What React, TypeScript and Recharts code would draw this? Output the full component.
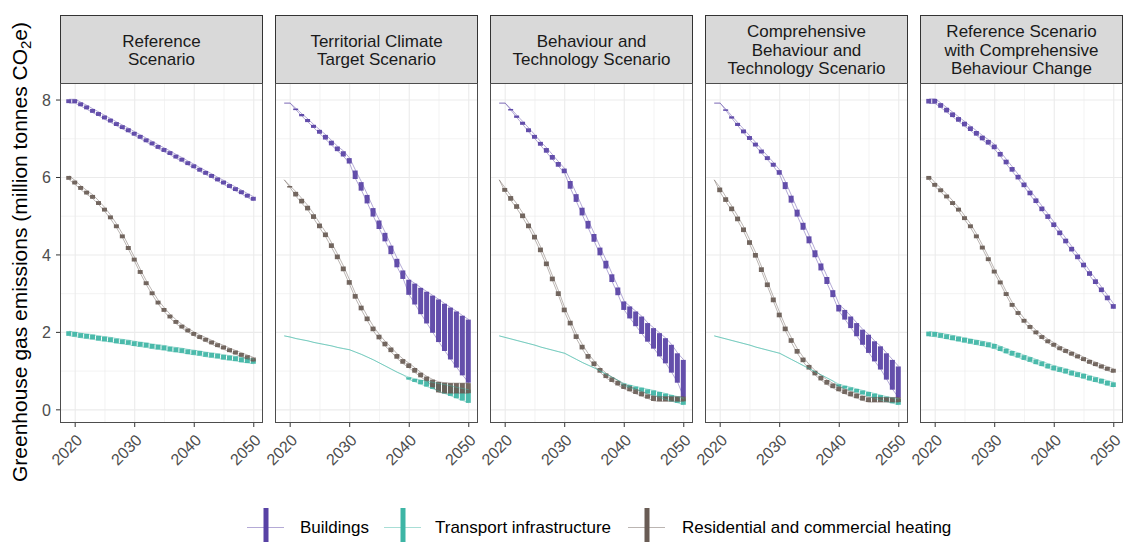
import React from 'react';
import { ComposedChart, Line, Bar, XAxis, YAxis, CartesianGrid } from 'recharts';

// years shown in every facet
const YEARS = [
  2019, 2020, 2021, 2022, 2023, 2024, 2025, 2026, 2027, 2028, 2029, 2030, 2031, 2032, 2033, 2034,
  2035, 2036, 2037, 2038, 2039, 2040, 2041, 2042, 2043, 2044, 2045, 2046, 2047, 2048, 2049, 2050,
];

const SERIES_NAMES = ['Buildings', 'Transport infrastructure', 'Residential and commercial heating'];
const SERIES_COLORS = ['#5842a5', '#3db5a5', '#695c55'];

const X_MAJOR = [2020, 2030, 2040, 2050];
const X_MINOR = [2025, 2035, 2045];
const Y_MAJOR = [0, 2, 4, 6, 8];
const Y_MINOR = [1, 3, 5, 7];

// --- Reference Scenario
const REF_BLD_LO = [7.92, 7.92, 7.84, 7.76, 7.67, 7.59, 7.50, 7.42, 7.33, 7.25, 7.17, 7.08, 7.00, 6.91, 6.83, 6.74, 6.66, 6.58, 6.49, 6.41, 6.32, 6.24, 6.15, 6.07, 5.99, 5.90, 5.82, 5.73, 5.65, 5.57, 5.48, 5.40];
const REF_BLD_HI = [8.02, 8.02, 7.94, 7.86, 7.77, 7.69, 7.60, 7.52, 7.43, 7.35, 7.27, 7.18, 7.10, 7.01, 6.93, 6.84, 6.76, 6.68, 6.59, 6.51, 6.42, 6.34, 6.25, 6.17, 6.09, 6.00, 5.92, 5.83, 5.75, 5.67, 5.58, 5.50];
const REF_TRN_LO = [1.91, 1.89, 1.86, 1.84, 1.82, 1.79, 1.77, 1.75, 1.72, 1.70, 1.68, 1.65, 1.63, 1.61, 1.58, 1.56, 1.54, 1.51, 1.49, 1.47, 1.44, 1.42, 1.40, 1.37, 1.35, 1.33, 1.30, 1.28, 1.26, 1.23, 1.21, 1.19];
const REF_TRN_HI = [2.03, 2.01, 1.98, 1.96, 1.94, 1.91, 1.89, 1.87, 1.84, 1.82, 1.80, 1.77, 1.75, 1.73, 1.70, 1.68, 1.66, 1.63, 1.61, 1.59, 1.56, 1.54, 1.52, 1.49, 1.47, 1.45, 1.42, 1.40, 1.38, 1.35, 1.33, 1.31];
const REF_HEAT_LO = [5.94, 5.82, 5.68, 5.56, 5.45, 5.29, 5.12, 4.92, 4.69, 4.43, 4.13, 3.83, 3.51, 3.22, 2.96, 2.72, 2.53, 2.36, 2.22, 2.10, 2.00, 1.91, 1.83, 1.76, 1.69, 1.62, 1.56, 1.49, 1.43, 1.37, 1.31, 1.25];
const REF_HEAT_HI = [6.04, 5.92, 5.78, 5.66, 5.55, 5.39, 5.22, 5.02, 4.79, 4.53, 4.23, 3.93, 3.61, 3.32, 3.06, 2.82, 2.63, 2.46, 2.32, 2.20, 2.10, 2.01, 1.93, 1.86, 1.79, 1.72, 1.66, 1.59, 1.53, 1.47, 1.41, 1.35];

// --- Territorial Climate Target Scenario
const TCT_BLD_LO = [7.92, 7.92, 7.74, 7.58, 7.43, 7.28, 7.13, 6.98, 6.83, 6.68, 6.54, 6.36, 5.96, 5.66, 5.33, 4.99, 4.67, 4.35, 4.02, 3.68, 3.38, 2.97, 2.72, 2.47, 2.23, 1.99, 1.75, 1.52, 1.30, 1.09, 0.89, 0.70];
const TCT_BLD_HI = [7.92, 7.92, 7.78, 7.64, 7.51, 7.36, 7.23, 7.10, 6.95, 6.80, 6.68, 6.50, 6.18, 5.88, 5.55, 5.21, 4.89, 4.57, 4.24, 3.90, 3.60, 3.36, 3.26, 3.15, 3.05, 2.95, 2.85, 2.74, 2.64, 2.54, 2.43, 2.33];
const TCT_TRN_LO = [1.91, 1.88, 1.84, 1.81, 1.78, 1.74, 1.71, 1.68, 1.65, 1.61, 1.58, 1.55, 1.49, 1.43, 1.36, 1.29, 1.21, 1.13, 1.05, 0.97, 0.90, 0.78, 0.72, 0.66, 0.60, 0.54, 0.48, 0.42, 0.36, 0.30, 0.24, 0.18];
const TCT_TRN_HI = [1.91, 1.88, 1.84, 1.81, 1.78, 1.74, 1.71, 1.68, 1.65, 1.61, 1.58, 1.55, 1.49, 1.43, 1.36, 1.29, 1.21, 1.13, 1.05, 0.97, 0.90, 0.84, 0.80, 0.77, 0.74, 0.71, 0.68, 0.65, 0.62, 0.58, 0.55, 0.52];
const TCT_HEAT_LO = [5.94, 5.74, 5.51, 5.33, 5.15, 4.93, 4.69, 4.46, 4.18, 3.89, 3.58, 3.23, 2.87, 2.57, 2.29, 2.03, 1.82, 1.64, 1.49, 1.32, 1.19, 1.08, 0.96, 0.84, 0.74, 0.58, 0.45, 0.43, 0.43, 0.43, 0.43, 0.43];
const TCT_HEAT_HI = [5.94, 5.78, 5.63, 5.45, 5.27, 5.05, 4.81, 4.58, 4.30, 4.01, 3.70, 3.35, 2.99, 2.69, 2.41, 2.15, 1.94, 1.76, 1.61, 1.44, 1.31, 1.20, 1.08, 0.96, 0.86, 0.78, 0.72, 0.70, 0.69, 0.69, 0.69, 0.69];

// --- Behaviour and Technology Scenario
const BT_BLD_LO = [7.92, 7.92, 7.73, 7.54, 7.36, 7.17, 7.00, 6.82, 6.64, 6.46, 6.28, 6.11, 5.71, 5.37, 5.02, 4.68, 4.34, 3.99, 3.65, 3.30, 2.96, 2.58, 2.36, 2.16, 1.96, 1.76, 1.58, 1.38, 1.20, 0.96, 0.70, 0.32];
const BT_BLD_HI = [7.92, 7.92, 7.77, 7.60, 7.44, 7.27, 7.10, 6.92, 6.76, 6.58, 6.40, 6.23, 5.91, 5.57, 5.22, 4.88, 4.54, 4.19, 3.85, 3.50, 3.16, 2.80, 2.67, 2.54, 2.41, 2.24, 2.11, 1.98, 1.85, 1.68, 1.46, 1.29];
const BT_TRN_LO = [1.91, 1.87, 1.83, 1.79, 1.75, 1.71, 1.67, 1.62, 1.58, 1.54, 1.50, 1.46, 1.38, 1.30, 1.22, 1.15, 1.08, 1.00, 0.92, 0.84, 0.76, 0.62, 0.57, 0.52, 0.47, 0.42, 0.37, 0.32, 0.27, 0.22, 0.18, 0.13];
const BT_TRN_HI = [1.91, 1.87, 1.83, 1.79, 1.75, 1.71, 1.67, 1.62, 1.58, 1.54, 1.50, 1.46, 1.38, 1.30, 1.22, 1.15, 1.08, 1.00, 0.92, 0.84, 0.76, 0.68, 0.64, 0.60, 0.57, 0.53, 0.50, 0.46, 0.42, 0.38, 0.34, 0.30];
const BT_HEAT_LO = [5.94, 5.63, 5.40, 5.19, 4.95, 4.69, 4.40, 4.07, 3.71, 3.32, 2.94, 2.52, 2.18, 1.83, 1.56, 1.32, 1.13, 0.96, 0.82, 0.72, 0.63, 0.54, 0.48, 0.41, 0.35, 0.29, 0.23, 0.22, 0.22, 0.22, 0.22, 0.22];
const BT_HEAT_HI = [5.94, 5.73, 5.52, 5.31, 5.07, 4.81, 4.52, 4.19, 3.83, 3.44, 3.06, 2.64, 2.30, 1.95, 1.68, 1.44, 1.25, 1.08, 0.94, 0.84, 0.75, 0.66, 0.60, 0.53, 0.47, 0.40, 0.36, 0.34, 0.34, 0.34, 0.34, 0.34];

// --- Comprehensive Behaviour and Technology Scenario
const CBT_BLD_LO = [7.92, 7.92, 7.72, 7.52, 7.33, 7.14, 6.97, 6.80, 6.62, 6.45, 6.28, 6.07, 5.70, 5.35, 4.99, 4.65, 4.30, 3.94, 3.60, 3.25, 2.91, 2.54, 2.33, 2.11, 1.90, 1.68, 1.47, 1.25, 1.04, 0.78, 0.52, 0.31];
const CBT_BLD_HI = [7.92, 7.92, 7.76, 7.58, 7.41, 7.24, 7.07, 6.90, 6.72, 6.55, 6.38, 6.19, 5.88, 5.53, 5.17, 4.83, 4.48, 4.12, 3.78, 3.43, 3.09, 2.71, 2.58, 2.41, 2.24, 2.07, 1.94, 1.77, 1.64, 1.46, 1.29, 1.12];
const CBT_TRN_LO = [1.91, 1.87, 1.83, 1.79, 1.75, 1.71, 1.67, 1.62, 1.58, 1.54, 1.50, 1.46, 1.38, 1.30, 1.22, 1.14, 1.06, 0.98, 0.90, 0.82, 0.74, 0.60, 0.55, 0.50, 0.45, 0.40, 0.35, 0.30, 0.25, 0.21, 0.17, 0.13];
const CBT_TRN_HI = [1.91, 1.87, 1.83, 1.79, 1.75, 1.71, 1.67, 1.62, 1.58, 1.54, 1.50, 1.46, 1.38, 1.30, 1.22, 1.14, 1.06, 0.98, 0.90, 0.82, 0.74, 0.66, 0.62, 0.58, 0.54, 0.50, 0.46, 0.42, 0.38, 0.34, 0.31, 0.28];
const CBT_HEAT_LO = [5.94, 5.62, 5.37, 5.13, 4.87, 4.59, 4.26, 3.93, 3.56, 3.17, 2.78, 2.39, 2.03, 1.73, 1.45, 1.23, 1.04, 0.89, 0.76, 0.65, 0.56, 0.48, 0.41, 0.35, 0.30, 0.24, 0.20, 0.20, 0.20, 0.20, 0.20, 0.20];
const CBT_HEAT_HI = [5.94, 5.74, 5.49, 5.25, 4.99, 4.71, 4.38, 4.05, 3.68, 3.29, 2.90, 2.51, 2.15, 1.85, 1.57, 1.35, 1.16, 1.01, 0.88, 0.77, 0.68, 0.60, 0.53, 0.47, 0.42, 0.36, 0.32, 0.32, 0.32, 0.32, 0.32, 0.32];

// --- Reference Scenario with Comprehensive Behaviour Change
const RCB_BLD_LO = [7.91, 7.91, 7.80, 7.68, 7.56, 7.44, 7.32, 7.20, 7.08, 6.96, 6.85, 6.73, 6.54, 6.34, 6.15, 5.95, 5.75, 5.54, 5.34, 5.13, 4.93, 4.72, 4.51, 4.30, 4.09, 3.89, 3.68, 3.46, 3.25, 3.04, 2.83, 2.61];
const RCB_BLD_HI = [8.03, 8.03, 7.92, 7.80, 7.68, 7.56, 7.44, 7.32, 7.20, 7.08, 6.97, 6.85, 6.66, 6.46, 6.27, 6.07, 5.87, 5.66, 5.46, 5.25, 5.05, 4.84, 4.63, 4.42, 4.21, 4.01, 3.80, 3.58, 3.37, 3.16, 2.95, 2.73];
const RCB_TRN_LO = [1.90, 1.89, 1.86, 1.83, 1.80, 1.77, 1.74, 1.71, 1.68, 1.65, 1.62, 1.58, 1.52, 1.46, 1.40, 1.35, 1.29, 1.24, 1.18, 1.13, 1.07, 1.02, 0.98, 0.94, 0.89, 0.85, 0.81, 0.76, 0.72, 0.68, 0.63, 0.59];
const RCB_TRN_HI = [2.02, 2.01, 1.98, 1.95, 1.92, 1.89, 1.86, 1.83, 1.80, 1.77, 1.74, 1.70, 1.64, 1.58, 1.52, 1.47, 1.41, 1.36, 1.30, 1.25, 1.19, 1.14, 1.10, 1.06, 1.01, 0.97, 0.93, 0.88, 0.84, 0.80, 0.75, 0.71];
const RCB_HEAT_LO = [5.94, 5.76, 5.62, 5.46, 5.29, 5.12, 4.90, 4.69, 4.43, 4.14, 3.84, 3.52, 3.24, 2.94, 2.66, 2.45, 2.25, 2.09, 1.95, 1.83, 1.72, 1.63, 1.54, 1.47, 1.40, 1.33, 1.26, 1.19, 1.13, 1.07, 1.01, 0.96];
const RCB_HEAT_HI = [6.04, 5.86, 5.72, 5.56, 5.39, 5.22, 5.00, 4.79, 4.53, 4.24, 3.94, 3.62, 3.34, 3.04, 2.76, 2.55, 2.35, 2.19, 2.05, 1.93, 1.82, 1.73, 1.64, 1.57, 1.50, 1.43, 1.36, 1.29, 1.23, 1.17, 1.11, 1.06];

const PANELS = [
  { title: ['Reference', 'Scenario'], bld: [REF_BLD_LO, REF_BLD_HI], trn: [REF_TRN_LO, REF_TRN_HI], heat: [REF_HEAT_LO, REF_HEAT_HI] },
  { title: ['Territorial Climate', 'Target Scenario'], bld: [TCT_BLD_LO, TCT_BLD_HI], trn: [TCT_TRN_LO, TCT_TRN_HI], heat: [TCT_HEAT_LO, TCT_HEAT_HI] },
  { title: ['Behaviour and', 'Technology Scenario'], bld: [BT_BLD_LO, BT_BLD_HI], trn: [BT_TRN_LO, BT_TRN_HI], heat: [BT_HEAT_LO, BT_HEAT_HI] },
  { title: ['Comprehensive', 'Behaviour and', 'Technology Scenario'], bld: [CBT_BLD_LO, CBT_BLD_HI], trn: [CBT_TRN_LO, CBT_TRN_HI], heat: [CBT_HEAT_LO, CBT_HEAT_HI] },
  { title: ['Reference Scenario', 'with Comprehensive', 'Behaviour Change'], bld: [RCB_BLD_LO, RCB_BLD_HI], trn: [RCB_TRN_LO, RCB_TRN_HI], heat: [RCB_HEAT_LO, RCB_HEAT_HI] },
];

// layout (px)
const FONT = '"Liberation Sans", Arial, Helvetica, sans-serif';
const PANEL_LEFT = [60, 275, 490, 705, 920];
const PLOT_W = 203;
const PLOT_TOP = 83;
const PLOT_H = 340;
const STRIP_TOP = 15;
const STRIP_H = 68;
const X_DOMAIN = [2017.45, 2051.55];
const Y_DOMAIN = [-0.34, 8.44];

const SERIES_KEYS = ['b', 't', 'h'];

const rowsFor = (p: any) =>
  YEARS.map((year, i) => ({
    year,
    bLo: p.bld[0][i], bHi: p.bld[1][i],
    tLo: p.trn[0][i], tHi: p.trn[1][i],
    hLo: p.heat[0][i], hHi: p.heat[1][i],
  }));

const YearTick = (props: any) => {
  const { x, y, payload } = props;
  return (
    <text
      x={x}
      y={y}
      dy="0.72em"
      textAnchor="end"
      fontSize={16}
      fill="#4d4d4d"
      transform={`rotate(-45 ${x} ${y})`}
    >
      {payload.value}
    </text>
  );
};

const Facet = ({ panel, index }: { panel: any; index: number }) => {
  const first = index === 0;
  const data = rowsFor(panel);
  return (
    <div style={{ position: 'absolute', left: PANEL_LEFT[index] - 60, top: PLOT_TOP }}>
      <ComposedChart
        width={60 + PLOT_W + 4}
        height={PLOT_H + 60}
        data={data}
        margin={{ top: 0, right: 4, bottom: 0, left: first ? 0 : 60 }}
      >
        <XAxis
          xAxisId="x"
          dataKey="year"
          type="number"
          domain={X_DOMAIN}
          allowDataOverflow
          ticks={X_MAJOR}
          interval={0}
          height={60}
          axisLine={false}
          tickSize={4}
          tickMargin={6}
          tickLine={{ stroke: '#333333' }}
          tick={(p: any) => <YearTick {...p} />}
        />
        {SERIES_KEYS.map((k) => (
          <XAxis key={k} xAxisId={'x' + k} dataKey="year" type="number" domain={X_DOMAIN} allowDataOverflow hide />
        ))}
        <YAxis
          yAxisId="y"
          type="number"
          domain={Y_DOMAIN}
          allowDataOverflow
          ticks={Y_MAJOR}
          interval={0}
          width={60}
          hide={!first}
          axisLine={false}
          tickSize={4}
          tickMargin={5}
          tickLine={{ stroke: '#333333' }}
          tick={{ fontSize: 16, fill: '#4d4d4d' }}
        />
        <CartesianGrid
          xAxisId="x"
          yAxisId="y"
          horizontalValues={Y_MINOR}
          verticalValues={X_MINOR}
          stroke="#ebebeb"
          strokeWidth={0.6}
        />
        <CartesianGrid
          xAxisId="x"
          yAxisId="y"
          horizontalValues={Y_MAJOR}
          verticalValues={X_MAJOR}
          stroke="#ebebeb"
          strokeWidth={1.1}
        />
        {SERIES_KEYS.map((k, si) => (
          <React.Fragment key={k}>
            <Line xAxisId="x" yAxisId="y" type="linear" dataKey={k + 'Lo'} stroke={SERIES_COLORS[si]} strokeOpacity={0.45} strokeWidth={1} dot={false} activeDot={false} isAnimationActive={false} />
            <Line xAxisId="x" yAxisId="y" type="linear" dataKey={k + 'Hi'} stroke={SERIES_COLORS[si]} strokeOpacity={0.45} strokeWidth={1} dot={false} activeDot={false} isAnimationActive={false} />
            <Bar
              xAxisId={'x' + k}
              yAxisId="y"
              dataKey={(d: any) => [d[k + 'Lo'], d[k + 'Hi']]}
              barSize={5}
              fill={SERIES_COLORS[si]}
              fillOpacity={0.93}
              isAnimationActive={false}
            />
          </React.Fragment>
        ))}
      </ComposedChart>
    </div>
  );
};

const LEGEND_KEY_X = [247, 384, 628];
const LEGEND_TEXT_X = [300, 435, 682];

const Overlay = () => (
  <svg
    width={1123}
    height={542}
    style={{ position: 'absolute', left: 0, top: 0, pointerEvents: 'none', fontFamily: FONT }}
  >
    {PANELS.map((p, i) => {
      const L = PANEL_LEFT[i];
      const n = p.title.length;
      return (
        <g key={i}>
          <rect x={L + 0.5} y={STRIP_TOP + 0.5} width={PLOT_W - 1} height={STRIP_H} fill="#d9d9d9" stroke="#333333" strokeWidth={1} />
          <rect x={L + 0.5} y={PLOT_TOP + 0.5} width={PLOT_W - 1} height={PLOT_H - 1} fill="none" stroke="#4d4d4d" strokeWidth={1} />
          <text textAnchor="middle" fontSize={17} fill="#1a1a1a">
            {p.title.map((line, k) => (
              <tspan key={k} x={L + PLOT_W / 2} y={55.7 + (k - (n - 1) / 2) * 18.3}>
                {line}
              </tspan>
            ))}
          </text>
        </g>
      );
    })}
    <text transform="translate(26.5 252) rotate(-90)" textAnchor="middle" fontSize={21} fill="#000000">
      Greenhouse gas emissions (million tonnes CO
      <tspan fontSize={15} dy={4}>2</tspan>
      <tspan dy={-4}>e)</tspan>
    </text>
    {SERIES_NAMES.map((name, i) => {
      const kx = LEGEND_KEY_X[i];
      return (
        <g key={name}>
          <line x1={kx} x2={kx + 37} y1={527.5} y2={527.5} stroke={SERIES_COLORS[i]} strokeOpacity={0.45} strokeWidth={1.2} />
          <rect x={kx + 16.5} y={508} width={5} height={40} fill={SERIES_COLORS[i]} />
          <text x={LEGEND_TEXT_X[i]} y={533} fontSize={17} fill="#000000">
            {name}
          </text>
        </g>
      );
    })}
  </svg>
);

export default function App() {
  return (
    <div
      style={{
        position: 'absolute',
        left: 0,
        top: 0,
        width: 1123,
        height: 542,
        overflow: 'hidden',
        background: '#ffffff',
        fontFamily: FONT,
      }}
    >
      {PANELS.map((p, i) => (
        <Facet key={i} panel={p} index={i} />
      ))}
      <Overlay />
    </div>
  );
}
